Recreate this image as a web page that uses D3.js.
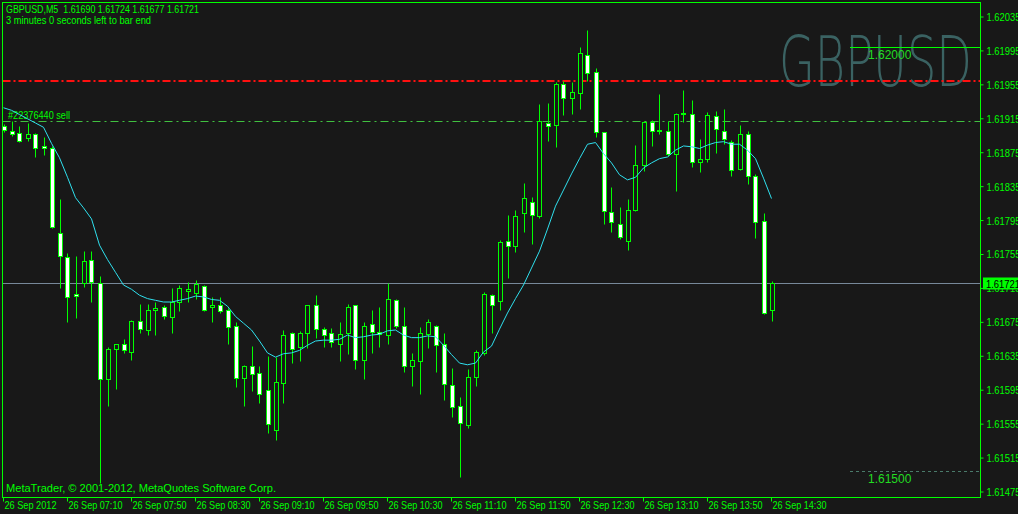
<!DOCTYPE html>
<html><head><meta charset="utf-8">
<script src="https://cdn.jsdelivr.net/npm/d3@7"></script>
<style>html,body{margin:0;padding:0;background:#181818;overflow:hidden}text{white-space:pre}</style>
</head><body><svg id="c" width="1018" height="514"></svg>
<script>
// ---- data (GBPUSD M5, 26 Sep 2012, 06:30 .. 14:30) ----
const opens=[1.61907,1.61901,1.61898,1.61892,1.61897,1.61883,1.61881,1.61780,1.61752,1.61708,
1.61721,1.61748,1.61721,1.61608,1.61643,1.61649,1.61640,1.61677,1.61666,1.61689,
1.61693,1.61681,1.61699,1.61712,1.61710,1.61718,1.61693,1.61696,1.61689,1.61671,
1.61609,1.61623,1.61615,1.61595,1.61548,1.61604,1.61662,1.61646,1.61662,1.61696,
1.61667,1.61662,1.61650,1.61662,1.61695,1.61631,1.61673,1.61664,1.61660,1.61701,
1.61671,1.61623,1.61630,1.61661,1.61671,1.61650,1.61601,1.61576,1.61554,1.61610,
1.61639,1.61707,1.61700,1.61771,1.61765,1.61804,1.61817,1.61800,1.61910,1.61908,
1.61956,1.61939,1.61945,1.61990,1.61970,1.61899,1.61805,1.61791,1.61771,1.61807,
1.61861,1.61911,1.61901,1.61901,1.61873,1.61921,1.61921,1.61864,1.61867,1.61918,
1.61901,1.61888,1.61856,1.61897,1.61848,1.61795,1.61690];
const highs=[1.61909,1.61912,1.61907,1.61910,1.61898,1.61893,1.61883,1.61820,1.61757,1.61753,
1.61759,1.61759,1.61730,1.61646,1.61650,1.61655,1.61678,1.61697,1.61697,1.61699,
1.61695,1.61716,1.61719,1.61722,1.61725,1.61719,1.61705,1.61705,1.61692,1.61675,
1.61625,1.61647,1.61623,1.61635,1.61634,1.61666,1.61664,1.61665,1.61695,1.61707,
1.61669,1.61668,1.61675,1.61697,1.61695,1.61675,1.61690,1.61693,1.61721,1.61702,
1.61693,1.61639,1.61670,1.61679,1.61672,1.61662,1.61621,1.61587,1.61620,1.61642,
1.61711,1.61709,1.61772,1.61802,1.61808,1.61839,1.61823,1.61932,1.61934,1.61958,
1.61960,1.61958,1.62000,1.62020,1.61975,1.61899,1.61834,1.61811,1.61821,1.61884,
1.61912,1.61914,1.61944,1.61912,1.61922,1.61949,1.61937,1.61891,1.61923,1.61924,
1.61927,1.61890,1.61908,1.61901,1.61850,1.61804,1.61724];
const lows=[1.61899,1.61895,1.61888,1.61889,1.61870,1.61872,1.61786,1.61716,1.61676,1.61680,
1.61717,1.61699,1.61486,1.61576,1.61597,1.61639,1.61631,1.61663,1.61660,1.61660,
1.61679,1.61663,1.61688,1.61699,1.61702,1.61688,1.61675,1.61686,1.61650,1.61599,
1.61576,1.61594,1.61580,1.61544,1.61536,1.61580,1.61627,1.61630,1.61645,1.61656,
1.61646,1.61646,1.61629,1.61638,1.61620,1.61608,1.61639,1.61646,1.61650,1.61668,
1.61617,1.61600,1.61591,1.61645,1.61617,1.61583,1.61564,1.61493,1.61550,1.61600,
1.61637,1.61663,1.61689,1.61727,1.61758,1.61781,1.61767,1.61798,1.61889,1.61882,
1.61919,1.61921,1.61926,1.61960,1.61894,1.61791,1.61782,1.61773,1.61760,1.61806,
1.61853,1.61883,1.61897,1.61871,1.61830,1.61911,1.61858,1.61852,1.61864,1.61875,
1.61885,1.61847,1.61855,1.61838,1.61775,1.61685,1.61677];
const closes=[1.61902,1.61897,1.61889,1.61897,1.61880,1.61880,1.61787,1.61753,1.61705,1.61706,
1.61747,1.61722,1.61608,1.61644,1.61649,1.61642,1.61677,1.61667,1.61689,1.61692,
1.61683,1.61699,1.61716,1.61714,1.61720,1.61690,1.61696,1.61688,1.61669,1.61609,
1.61624,1.61614,1.61591,1.61555,1.61605,1.61660,1.61644,1.61663,1.61695,1.61667,
1.61660,1.61652,1.61661,1.61693,1.61631,1.61671,1.61664,1.61661,1.61702,1.61671,
1.61624,1.61631,1.61662,1.61676,1.61648,1.61602,1.61575,1.61556,1.61611,1.61640,
1.61708,1.61696,1.61770,1.61765,1.61800,1.61822,1.61801,1.61912,1.61907,1.61956,
1.61939,1.61947,1.61992,1.61969,1.61899,1.61806,1.61793,1.61776,1.61808,1.61861,
1.61911,1.61901,1.61902,1.61873,1.61921,1.61922,1.61864,1.61868,1.61919,1.61903,
1.61891,1.61855,1.61897,1.61848,1.61793,1.61686,1.61721];
const maValues=[1.61928,1.61925,1.61920,1.61915,1.61910,1.61905,1.61886,1.61869,1.61846,1.61822,
1.61810,1.61797,1.61766,1.61749,1.61734,1.61719,1.61714,1.61707,1.61703,1.61701,
1.61699,1.61699,1.61701,1.61703,1.61706,1.61705,1.61702,1.61701,1.61694,1.61682,
1.61674,1.61666,1.61653,1.61639,1.61634,1.61638,1.61639,1.61642,1.61648,1.61653,
1.61654,1.61654,1.61655,1.61660,1.61657,1.61658,1.61660,1.61661,1.61665,1.61666,
1.61660,1.61657,1.61657,1.61659,1.61658,1.61648,1.61637,1.61627,1.61625,1.61627,
1.61640,1.61647,1.61667,1.61686,1.61703,1.61719,1.61739,1.61759,1.61785,1.61812,
1.61831,1.61850,1.61868,1.61885,1.61887,1.61874,1.61863,1.61849,1.61843,1.61846,
1.61857,1.61863,1.61868,1.61870,1.61878,1.61883,1.61882,1.61880,1.61884,1.61887,
1.61888,1.61885,1.61885,1.61878,1.61868,1.61845,1.61821];
const priceTicks=[1.62035,1.61995,1.61955,1.61915,1.61875,1.61835,1.61795,1.61755,1.61715,1.61675,1.61635,1.61595,1.61555,1.61515,1.61475];
const timeTickLabels=["26 Sep 2012","26 Sep 07:10","26 Sep 07:50","26 Sep 08:30","26 Sep 09:10","26 Sep 09:50","26 Sep 10:30","26 Sep 11:10","26 Sep 11:50","26 Sep 12:30","26 Sep 13:10","26 Sep 13:50","26 Sep 14:30"];
const timeTickValues=["06:30","07:10","07:50","08:30","09:10","09:50","10:30","11:10","11:50","12:30","13:10","13:50","14:30"];
const bidPrice=1.61721, stopLevel=1.61960, orderPrice=1.61912, levelHigh=1.62000, levelLow=1.61500;
const headerText="GBPUSD,M5  1.61690 1.61724 1.61677 1.61721";

// ---- drawing ----
const W=1018,H=514, L=2.5, R=980.5, T=2.5, B=497.5;
const LIME="#00ff00", FONT="'Liberation Sans', Arial, sans-serif";
const svg=d3.select('#c');
svg.append('rect').attr('width',W).attr('height',H).attr('fill','#181818');

// squeeze a text horizontally to a given width (Tahoma-like narrow look)
function squeeze(sel,target){
  return sel.attr('textLength',target).attr('lengthAdjust','spacingAndGlyphs');
}

const parse=d3.timeParse("%Y-%m-%d %H:%M");
const t0=parse("2012-09-26 06:30");
const times=opens.map((_,i)=>d3.timeMinute.offset(t0,5*i));
const x=d3.scaleTime().domain([t0,times[times.length-1]]).range([3.5,771.5]);
const y=d3.scaleLinear().domain([1.61475,1.62035]).range([492,17]);
const py=v=>Math.round(y(v))+0.5;

// watermark
svg.append('text').attr('x',779).attr('y',86).text('GBPUSD')
  .attr('font-family',"'DejaVu Sans', sans-serif").attr('font-weight',200).attr('font-size',70)
  .attr('textLength',193).attr('lengthAdjust','spacingAndGlyphs')
  .attr('fill','#3a6262');

// horizontal objects
svg.append('line').attr('x1',L).attr('x2',R).attr('y1',py(stopLevel)-0.5).attr('y2',py(stopLevel)-0.5)
  .attr('stroke','#ff1010').attr('stroke-width',2).attr('stroke-dasharray','8,3,2,3');
svg.append('line').attr('x1',L).attr('x2',R).attr('y1',py(orderPrice)).attr('y2',py(orderPrice))
  .attr('stroke','#40c040').attr('stroke-dasharray','8,4,2,4');
squeeze(svg.append('text').attr('x',8).attr('y',py(orderPrice)-2.5).text('#22376440 sell')
  .attr('font-family',FONT).attr('font-size',10.5).attr('fill',LIME),62);
svg.append('line').attr('x1',L).attr('x2',R).attr('y1',py(bidPrice)).attr('y2',py(bidPrice))
  .attr('stroke','#778899');
svg.append('line').attr('x1',850).attr('x2',R).attr('y1',py(levelHigh)).attr('y2',py(levelHigh))
  .attr('stroke',LIME);
svg.append('text').attr('x',868).attr('y',py(levelHigh)+11).text(levelHigh.toFixed(5))
  .attr('font-family',FONT).attr('font-size',12).attr('fill','#22dd22');
svg.append('line').attr('x1',850).attr('x2',R).attr('y1',py(levelLow)).attr('y2',py(levelLow))
  .attr('stroke','#4a7a6a').attr('stroke-dasharray','3,3');
svg.append('text').attr('x',868).attr('y',py(levelLow)+11).text(levelLow.toFixed(5))
  .attr('font-family',FONT).attr('font-size',12).attr('fill','#22dd22');

// candles
const data=opens.map((o,i)=>({t:times[i],o,h:highs[i],l:lows[i],c:closes[i]}));
const cg=svg.append('g');
cg.selectAll('line.wick').data(data).enter().append('line')
  .attr('x1',d=>Math.round(x(d.t))+0.5).attr('x2',d=>Math.round(x(d.t))+0.5)
  .attr('y1',d=>py(d.h)).attr('y2',d=>py(d.l)).attr('stroke',LIME);
cg.selectAll('rect.body').data(data).enter().append('rect')
  .attr('x',d=>Math.round(x(d.t))-1.5).attr('width',4)
  .attr('y',d=>Math.min(py(d.o),py(d.c)))
  .attr('height',d=>Math.abs(py(d.o)-py(d.c)))
  .attr('fill',d=>d.c<d.o?'#ffffff':'#181818').attr('stroke',LIME);

// moving average
svg.append('path').datum(maValues)
  .attr('d',d3.line().x((d,i)=>x(times[i])).y(d=>y(d)))
  .attr('fill','none').attr('stroke','#2fe0ee').attr('stroke-width',1);

// frame
svg.append('rect').attr('x',L).attr('y',T).attr('width',R-L).attr('height',B-T)
  .attr('fill','none').attr('stroke',LIME);

// price axis
const ya=svg.append('g').attr('transform',`translate(${R},0)`)
  .call(d3.axisRight(y).tickValues(priceTicks).tickSize(3).tickPadding(3).tickFormat(d3.format('.5f')));
ya.select('.domain').remove();
ya.selectAll('line').attr('stroke',LIME).attr('transform','translate(0,-0.5)');
ya.selectAll('text').attr('fill',LIME).attr('font-family',FONT).attr('font-size',10.5).attr('dy','0.33em')
  .attr('textLength',34).attr('lengthAdjust','spacingAndGlyphs');

// bid label
svg.append('rect').attr('x',983).attr('y',py(bidPrice)-6).attr('width',40).attr('height',12).attr('fill',LIME);
squeeze(svg.append('text').attr('x',986).attr('y',py(bidPrice)+4).text(bidPrice.toFixed(5))
  .attr('font-family',FONT).attr('font-size',10.5).attr('fill','#000'),34);

// time axis
const tickDates=timeTickValues.map(s=>parse("2012-09-26 "+s));
const xa=svg.append('g').attr('transform',`translate(-0.5,${B})`)
  .call(d3.axisBottom(x).tickValues(tickDates).tickSize(4).tickFormat((d,i)=>timeTickLabels[i]));
xa.select('.domain').remove();
xa.selectAll('line').attr('stroke',LIME);
xa.selectAll('text').attr('fill',LIME).attr('font-family',FONT).attr('font-size',10.5)
  .attr('text-anchor','start').attr('dx',1).attr('y',4)
  .each(function(d,i){ squeeze(d3.select(this), i===0?52:54); });

// header texts
squeeze(svg.append('text').attr('x',6).attr('y',13).text(headerText)
  .attr('font-family',FONT).attr('font-size',11).attr('fill',LIME),193);
squeeze(svg.append('text').attr('x',6).attr('y',24).text('3 minutes 0 seconds left to bar end')
  .attr('font-family',FONT).attr('font-size',11).attr('fill',LIME),145);
squeeze(svg.append('text').attr('x',6).attr('y',492).text('MetaTrader, \u00a9 2001-2012, MetaQuotes Software Corp.')
  .attr('font-family',FONT).attr('font-size',11).attr('fill',LIME),270);
</script></body></html>
